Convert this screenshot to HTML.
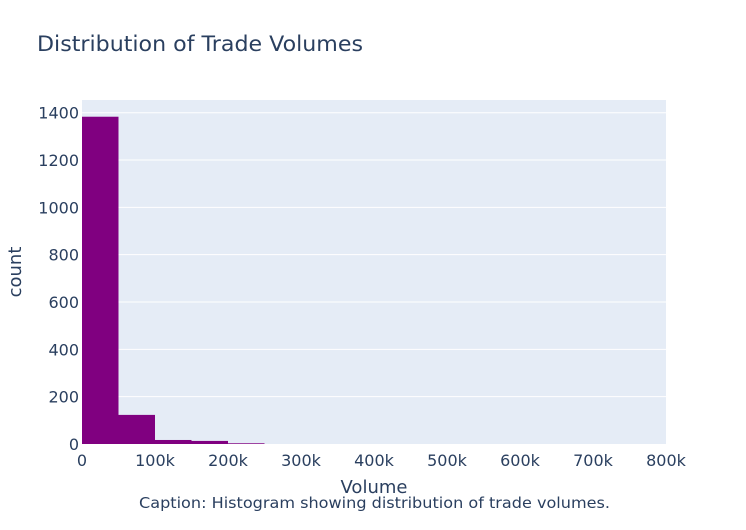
<!DOCTYPE html>
<html><head><meta charset="utf-8"><style>
body{margin:0;background:#fff;width:746px;height:525px;overflow:hidden}
svg{font-family:"DejaVu Sans","Liberation Sans",sans-serif}
</style></head><body>
<svg id="chart" width="746" height="525">
<text x="37" y="51" font-size="21" fill="#2a3f5f" textLength="326" lengthAdjust="spacingAndGlyphs">Distribution of Trade Volumes</text>
<rect x="82" y="100" width="584" height="344" fill="#e5ecf6"/>
<g id="grid"></g><g id="bars"></g><g id="axes"></g>
<text x="374" y="493" font-size="18" fill="#2a3f5f" text-anchor="middle">Volume</text>
<text transform="translate(21,272) rotate(-90)" font-size="18" fill="#2a3f5f" text-anchor="middle">count</text>
<text x="139" y="508" font-size="15" fill="#2a3f5f" textLength="471" lengthAdjust="spacingAndGlyphs">Caption: Histogram showing distribution of trade volumes.</text>
</svg>
<script>
const binStarts=[0,50000,100000,150000,200000];
const binWidth=50000;
const counts=[1383,123,17,13,3];
const xTicks=[0,100000,200000,300000,400000,500000,600000,700000,800000];
const xTickLabels=["0","100k","200k","300k","400k","500k","600k","700k","800k"];
const yTicks=[0,200,400,600,800,1000,1200,1400];
const NS="http://www.w3.org/2000/svg";
const X0=82,X1=666,Y0=444,Y1=112.7;
const xs=v=>X0+(v/800000)*(X1-X0);
const ys=v=>Y0-(v/1400)*(Y0-Y1);
function mk(t,a,p){const e=document.createElementNS(NS,t);for(const k in a)e.setAttribute(k,a[k]);p.appendChild(e);return e;}
const grid=document.getElementById('grid'),bars=document.getElementById('bars'),axes=document.getElementById('axes');
yTicks.forEach(v=>{
  if(v>0){const l=mk('line',{x1:X0,x2:X1,y1:ys(v),y2:ys(v),stroke:'#fff','stroke-width':1},grid);
  
  }
  const t=mk('text',{x:X0-3,y:ys(v)+6,'font-size':16,fill:'#2a3f5f','text-anchor':'end'},axes);
  t.textContent=v;
  
  
});
xTicks.forEach((v,i)=>{
  const t=mk('text',{x:xs(v),y:Y0+22,'font-size':16,fill:'#2a3f5f','text-anchor':'middle'},axes);
  t.textContent=xTickLabels[i];
  
  
});
counts.forEach((c,i)=>{
  const x=xs(binStarts[i]),w=xs(binStarts[i]+binWidth)-x;
  const r=mk('rect',{x:x,y:ys(c),width:w,height:Y0-ys(c),fill:'#800080'},bars);
  
  
});
</script>
</body></html>
